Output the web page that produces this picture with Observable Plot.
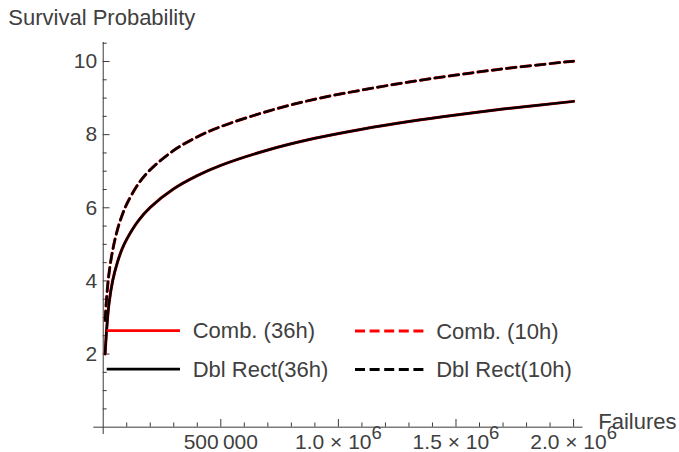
<!DOCTYPE html>
<html><head><meta charset="utf-8">
<script src="https://cdn.jsdelivr.net/npm/d3@7"></script>
<script src="https://cdn.jsdelivr.net/npm/@observablehq/plot@0.6"></script>
<style>body{margin:0;background:#fff} svg{display:block}</style>
</head><body><div id="chart"></div>
<script>
// ---- data ----
const failures = [8000, 15000, 25000, 40000, 60000, 80000, 100000, 150000, 200000, 300000, 400000, 500000, 700000, 900000, 1100000, 1300000, 1500000, 1700000, 2000000];
const comb36    = [2.00, 2.70, 3.40, 4.00, 4.50, 4.87, 5.14, 5.65, 6.01, 6.52, 6.88, 7.16, 7.58, 7.90, 8.15, 8.36, 8.54, 8.70, 8.91];
const dblRect36 = [2.00, 2.70, 3.40, 4.00, 4.50, 4.87, 5.14, 5.65, 6.01, 6.52, 6.88, 7.16, 7.58, 7.90, 8.15, 8.36, 8.54, 8.70, 8.91];
const comb10    = [2.92, 3.58, 4.22, 4.83, 5.39, 5.79, 6.10, 6.66, 7.04, 7.57, 7.94, 8.22, 8.64, 8.97, 9.22, 9.44, 9.63, 9.80, 10.01];
const dblRect10 = [2.92, 3.58, 4.22, 4.83, 5.39, 5.79, 6.10, 6.66, 7.04, 7.57, 7.94, 8.22, 8.64, 8.97, 9.22, 9.44, 9.63, 9.80, 10.01];
const seriesNames = ["Comb. (36h)", "Comb. (10h)", "Dbl Rect(36h)", "Dbl Rect(10h)"];
const xMajorTicks = [500000, 1000000, 1500000, 2000000];
const xTickLabels = ["500\u2009000", "1.0 × 10^6", "1.5 × 10^6", "2.0 × 10^6"];
const xMinorTicks = [100000, 200000, 300000, 400000, 600000, 700000, 800000, 900000, 1100000, 1200000, 1300000, 1400000, 1600000, 1700000, 1800000, 1900000];
const yMajorTicks = [2, 4, 6, 8, 10];
const yTickLabels = ["2", "4", "6", "8", "10"];
const yMinorTicks = [0.5, 1, 1.5, 2.5, 3, 3.5, 4.5, 5, 5.5, 6.5, 7, 7.5, 8.5, 9, 9.5, 10.5];
const yTitle = "Survival Probability";
const xTitle = "Failures";

// ---- styles ----
const RED = "#ff0000", BLACK = "#000000";
const textColor = "#404040", axisColor = "#3a3a3a";
const font = "'Liberation Sans', Arial, Helvetica, sans-serif";
const dash = "9.5,5";
const curve = "catmull-rom";

const rows = (ys) => failures.map((x, i) => ({x, y: ys[i]}));

const plot = Plot.plot({
  width: 679, height: 452,
  marginLeft: 93.3, marginRight: 96.5, marginTop: 42, marginBottom: 18,
  x: {domain: [-40000, 2040000], axis: null},
  y: {domain: [-0.2, 10.52], axis: null},
  style: {fontFamily: font, background: "white", overflow: "visible"},
  marks: [
    Plot.ruleY([0], {stroke: axisColor, strokeWidth: 1}),
    Plot.ruleX([0], {stroke: axisColor, strokeWidth: 1}),
    Plot.ruleX(xMinorTicks, {x: d => d, y1: 0, y2: 0.115, stroke: axisColor}),
    Plot.ruleX(xMajorTicks, {x: d => d, y1: 0, y2: 0.21, stroke: axisColor}),
    Plot.ruleY(yMinorTicks, {y: d => d, x1: 0, x2: 17000, stroke: axisColor}),
    Plot.ruleY(yMajorTicks, {y: d => d, x1: 0, x2: 29000, stroke: axisColor}),
    Plot.text(yMajorTicks, {x: 0, y: d => d, text: (d, i) => yTickLabels[i], textAnchor: "end", dx: -6, fontSize: 21, fill: textColor}),
    Plot.text(xMajorTicks, {x: d => d, y: 0, text: (d, i) => xTickLabels[i], lineAnchor: "top", dy: 7, fontSize: 21, fill: textColor}),
    Plot.line(rows(comb36), {x: "x", y: "y", stroke: RED, strokeWidth: 3.0, curve}),
    Plot.line(rows(comb10), {x: "x", y: "y", stroke: RED, strokeWidth: 3.0, strokeDasharray: dash, curve}),
    Plot.line(rows(dblRect36), {x: "x", y: "y", stroke: BLACK, strokeWidth: 2.5, curve}),
    Plot.line(rows(dblRect10), {x: "x", y: "y", stroke: BLACK, strokeWidth: 2.5, strokeDasharray: dash, curve})
  ]
});
document.getElementById("chart").appendChild(plot);

const svg = d3.select(plot);
// superscripts in tick labels
svg.selectAll("text").each(function() {
  const t = this.textContent;
  if (t.includes("^")) {
    const [base, exp] = t.split("^");
    const sel = d3.select(this);
    sel.selectAll("*").remove();
    sel.text(null);
    sel.append("tspan").text(base);
    sel.append("tspan").attr("dy", "-0.52em").attr("font-size", "0.88em").text(exp);
  }
});

// axis titles
svg.append("text").attr("x", 8.3).attr("y", 25.3).attr("font-size", 22).attr("fill", textColor)
  .attr("text-anchor", "start").attr("font-family", font).text(yTitle);
svg.append("text").attr("x", 598.3).attr("y", 428.5).attr("font-size", 22).attr("fill", textColor)
  .attr("text-anchor", "start").attr("font-family", font).text(xTitle);

// legend
const legendItems = [
  {name: seriesNames[0], color: RED, dashed: false, x: 106.7, y: 330.7},
  {name: seriesNames[2], color: BLACK, dashed: false, x: 106.7, y: 369.2},
  {name: seriesNames[1], color: RED, dashed: true, x: 355, y: 331},
  {name: seriesNames[3], color: BLACK, dashed: true, x: 355, y: 369.5}
];
const lg = svg.append("g");
legendItems.forEach(d => {
  const len = d.dashed ? 68.5 : 73.3;
  lg.append("line").attr("x1", d.x).attr("x2", d.x + len).attr("y1", d.y).attr("y2", d.y)
    .attr("stroke", d.color).attr("stroke-width", 2.8)
    .attr("stroke-dasharray", d.dashed ? "10,4.6" : null);
  lg.append("text").attr("x", d.x + len + 12.7).attr("y", d.y + 7.6)
    .attr("text-anchor", "start")
    .attr("font-size", 22).attr("fill", textColor).attr("font-family", font).text(d.name);
});
</script>
</body></html>
